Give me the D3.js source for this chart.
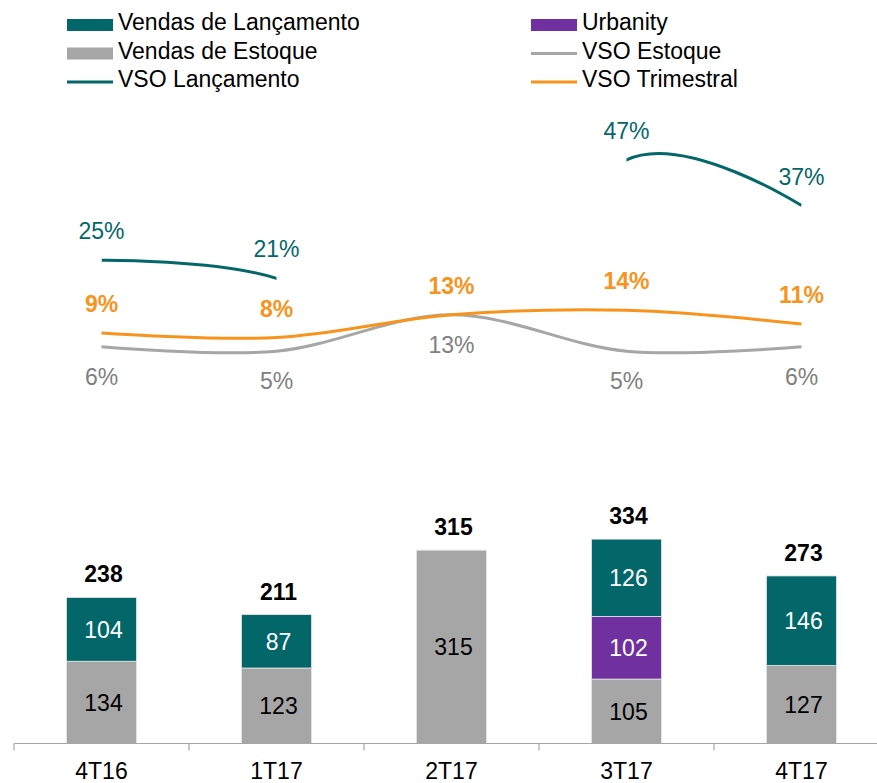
<!DOCTYPE html>
<html>
<head>
<meta charset="utf-8">
<script src="https://cdn.jsdelivr.net/npm/d3@7"></script>
<style>
  body { margin: 0; background: #fff; }
  svg text { font-family: "Liberation Sans", Arial, sans-serif; }
</style>
</head>
<body>
<div id="chart"></div>
<script>
// quarters
var quarters = ["4T16", "1T17", "2T17", "3T17", "4T17"];

// sales (bars)
var vendasEstoque = [134, 123, 315, 105, 127];
var urbanity = [0, 0, 0, 102, 0];
var vendasLancamento = [104, 87, 0, 126, 146];
// totals as printed (rounded in source)
var totais = [238, 211, 315, 334, 273];

// VSO (lines)
var vsoLancamento = [0.25, 0.21, null, 0.47, 0.37];
var vsoEstoque = [0.06, 0.05, 0.13, 0.05, 0.06];
var vsoTrimestral = [0.09, 0.08, 0.13, 0.14, 0.11];

var colors = {
    lanc: "#03676a",
    urb: "#7030a0",
    est: "#a6a6a6",
    vsoEst: "#a6a6a6",
    vsoEstText: "#808080",
    vsoTri: "#f7941d"
};

var fs = "23px";
var width = 877, height = 783;
var svg = d3.select("#chart").append("svg")
    .attr("width", width)
    .attr("height", height);

var x = d3.scaleBand()
    .domain(quarters)
    .range([14, 889])
    .paddingInner(0.6)
    .paddingOuter(0.3);
var step = x.step();
var cx = function (q) { return x(q) + x.bandwidth() / 2; };

// bars
var yBar = d3.scaleLinear().domain([0, 400]).range([743.5, 498]);

var rows = quarters.map(function (q, i) {
    return { q: q, est: vendasEstoque[i], urb: urbanity[i], lanc: vendasLancamento[i] };
});
var stack = d3.stack().keys(["est", "urb", "lanc"])(rows);

var segColors = { est: colors.est, urb: colors.urb, lanc: colors.lanc };
var segText = { est: "#000", urb: "#fff", lanc: "#fff" };

stack.forEach(function (layer) {
    var g = svg.append("g");
    layer.forEach(function (d) {
        var v = d[1] - d[0];
        if (v <= 0) return;
        g.append("rect")
            .attr("x", x(d.data.q))
            .attr("y", yBar(d[1]))
            .attr("width", x.bandwidth())
            .attr("height", yBar(d[0]) - yBar(d[1]))
            .attr("fill", segColors[layer.key])
            .attr("stroke", "#e6e6e6")
            .attr("stroke-width", 0.8);
        g.append("text")
            .attr("x", cx(d.data.q) + 2)
            .attr("y", (yBar(d[0]) + yBar(d[1])) / 2)
            .attr("dy", "0.36em")
            .attr("text-anchor", "middle")
            .style("font-size", fs)
            .attr("fill", segText[layer.key])
            .text(v);
    });
});

// totals
rows.forEach(function (d, i) {
    var top = d.est + d.urb + d.lanc;
    svg.append("text")
        .attr("x", cx(d.q) + 2)
        .attr("y", yBar(top) - 15)
        .attr("text-anchor", "middle")
        .style("font-size", fs)
        .style("font-weight", "bold")
        .attr("fill", "#000")
        .text(totais[i]);
});

// axis
var axisY = yBar(0);
svg.append("line")
    .attr("x1", 14).attr("x2", width)
    .attr("y1", axisY).attr("y2", axisY)
    .attr("stroke", "#a6a6a6").attr("stroke-width", 1.2);
quarters.forEach(function (q) {
    var bx = x(q) - (step - x.bandwidth()) / 2;
    svg.append("line")
        .attr("x1", bx).attr("x2", bx)
        .attr("y1", axisY).attr("y2", axisY + 7)
        .attr("stroke", "#a6a6a6").attr("stroke-width", 1.2);
    svg.append("text")
        .attr("x", cx(q))
        .attr("y", 779)
        .attr("text-anchor", "middle")
        .style("font-size", fs)
        .attr("fill", "#000")
        .text(q);
});

// lines
var yLine = d3.scaleLinear().domain([0, 0.47]).range([374, 160]);
var line = d3.line()
    .x(function (d, i) { return cx(quarters[i]); })
    .y(function (d) { return yLine(d); })
    .curve(d3.curveCardinal);

svg.append("path")
    .datum(vsoEstoque)
    .attr("d", line)
    .attr("fill", "none")
    .attr("stroke", colors.vsoEst)
    .attr("stroke-width", 3);

svg.append("path")
    .datum(vsoTrimestral)
    .attr("d", line)
    .attr("fill", "none")
    .attr("stroke", colors.vsoTri)
    .attr("stroke-width", 3);

// VSO Lançamento: no launch in 2T17, so the line is hidden around it
var clip = svg.append("defs").append("clipPath").attr("id", "lancClip");
vsoLancamento.forEach(function (v, i) {
    if (i === 0) return;
    if (v === null || vsoLancamento[i - 1] === null) return;
    var x0 = cx(quarters[i - 1]), x1 = cx(quarters[i]);
    clip.append("rect")
        .attr("x", x0).attr("y", 0)
        .attr("width", x1 - x0).attr("height", height);
});
svg.append("path")
    .datum(vsoLancamento.map(function (v) { return v === null ? 0 : v; }))
    .attr("d", line)
    .attr("fill", "none")
    .attr("stroke", colors.lanc)
    .attr("stroke-width", 3)
    .attr("clip-path", "url(#lancClip)");

var pct = function (v) { return Math.round(v * 100) + "%"; };

vsoLancamento.forEach(function (v, i) {
    if (v === null) return;
    svg.append("text")
        .attr("x", cx(quarters[i]))
        .attr("y", yLine(v) - 21)
        .attr("text-anchor", "middle")
        .style("font-size", fs)
        .attr("fill", colors.lanc)
        .text(pct(v));
});
vsoTrimestral.forEach(function (v, i) {
    svg.append("text")
        .attr("x", cx(quarters[i]))
        .attr("y", yLine(v) - 21)
        .attr("text-anchor", "middle")
        .style("font-size", fs)
        .style("font-weight", "bold")
        .attr("fill", colors.vsoTri)
        .text(pct(v));
});
vsoEstoque.forEach(function (v, i) {
    svg.append("text")
        .attr("x", cx(quarters[i]))
        .attr("y", yLine(v) + 38)
        .attr("text-anchor", "middle")
        .style("font-size", fs)
        .attr("fill", colors.vsoEstText)
        .text(pct(v));
});

// legend
var legendItems = [
    { name: "Vendas de Lançamento", type: "rect", color: colors.lanc, col: 0, row: 0 },
    { name: "Urbanity", type: "rect", color: colors.urb, col: 1, row: 0 },
    { name: "Vendas de Estoque", type: "rect", color: colors.est, col: 0, row: 1 },
    { name: "VSO Estoque", type: "line", color: colors.vsoEst, col: 1, row: 1 },
    { name: "VSO Lançamento", type: "line", color: colors.lanc, col: 0, row: 2 },
    { name: "VSO Trimestral", type: "line", color: colors.vsoTri, col: 1, row: 2 }
];
var legendX = [67, 531], legendY = [30, 58.5, 87];

var lg = svg.append("g");
legendItems.forEach(function (d) {
    var lx = legendX[d.col], ly = legendY[d.row];
    if (d.type === "rect") {
        lg.append("rect")
            .attr("x", lx).attr("y", ly - 11)
            .attr("width", 46).attr("height", 12)
            .attr("fill", d.color);
    } else {
        lg.append("line")
            .attr("x1", lx).attr("x2", lx + 46)
            .attr("y1", ly - 5).attr("y2", ly - 5)
            .attr("stroke", d.color).attr("stroke-width", 3);
    }
    lg.append("text")
        .attr("x", lx + 51)
        .attr("y", ly)
        .style("font-size", fs)
        .attr("fill", "#000")
        .text(d.name);
});
</script>
</body>
</html>
